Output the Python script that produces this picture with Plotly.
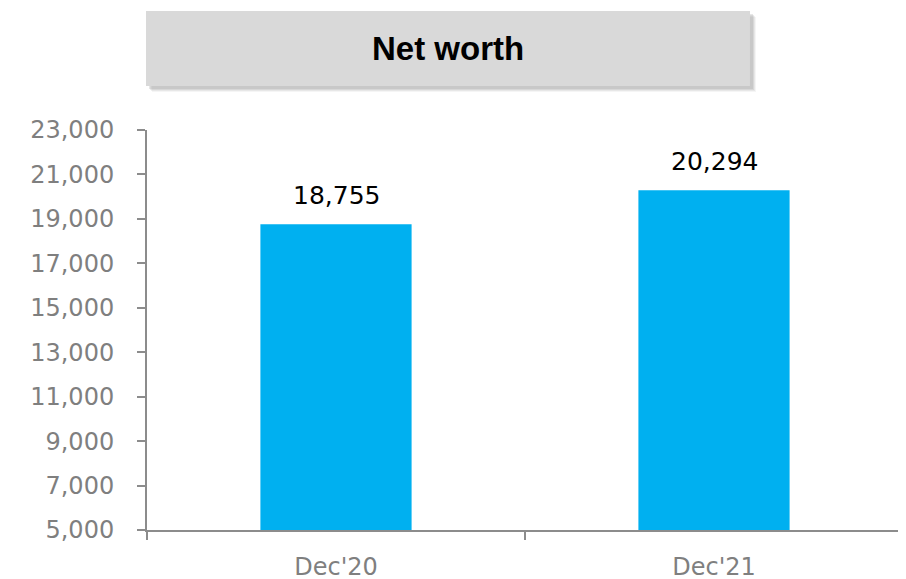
import plotly.graph_objects as go

# data
periods = ["Dec'20", "Dec'21"]
net_worth = [18755, 20294]
y_ticks = [5000, 7000, 9000, 11000, 13000, 15000, 17000, 19000, 21000, 23000]
title_text = "Net worth"

BAR_COLOR = "#00B0F0"
AXIS_COLOR = "#8c8c8c"
TICK_FONT = dict(family="DejaVu Sans", size=24, color="#7f7f7f")


def create_chart() -> go.Figure:
    fig = go.Figure()

    fig.add_trace(go.Bar(x=periods, y=net_worth,
                         marker=dict(color=BAR_COLOR, line=dict(width=0)),
                         width=0.4, hoverinfo="skip"))

    # value labels above the bars
    for p, v in zip(periods, net_worth):
        fig.add_annotation(x=p, y=v, text=f"{v:,}", showarrow=False,
                           yanchor="bottom", yshift=12,
                           font=dict(family="DejaVu Sans", size=25, color="#000000"))

    # title box with a soft shadow
    for off, op in [(6, 0.10), (5, 0.15), (4, 0.2), (3, 0.25)]:
        fig.add_shape(type="rect", xref="paper", yref="paper",
                      x0=-0.0013 + off / 756, x1=0.7976 + off / 756,
                      y0=1.11 - off / 400, y1=1.2975 - off / 400,
                      fillcolor="#9a9a9a", opacity=op, line=dict(width=0),
                      layer="below")
    fig.add_shape(type="rect", xref="paper", yref="paper",
                  x0=-0.0013, x1=0.7976, y0=1.11, y1=1.2975,
                  fillcolor="#D9D9D9", line=dict(width=0), layer="below")
    fig.add_annotation(xref="paper", yref="paper", x=0.3982, y=1.2038,
                       text=f"<b>{title_text}</b>", showarrow=False,
                       xanchor="center", yanchor="middle",
                       font=dict(family="Liberation Sans", size=33, color="#000000"))

    fig.update_xaxes(showline=True, linecolor=AXIS_COLOR, linewidth=2,
                     ticks="outside", tickson="boundaries", ticklen=8,
                     tickcolor=AXIS_COLOR, tickwidth=2,
                     ticklabelstandoff=14, tickfont=TICK_FONT,
                     showgrid=False, zeroline=False)
    fig.update_yaxes(range=[5000, 23000], tickvals=y_ticks,
                     ticktext=[f"{t:,}" for t in y_ticks],
                     showline=True, linecolor=AXIS_COLOR, linewidth=2,
                     ticks="outside", ticklen=8, tickcolor=AXIS_COLOR,
                     tickwidth=2, ticklabelstandoff=18, tickfont=TICK_FONT,
                     showgrid=False, zeroline=False)

    # the page adds an 8px body margin, so margins are trimmed to match
    fig.update_layout(width=906, height=579,
                      margin={"l": 139, "r": 11, "t": 122, "b": 57,
                              "autoexpand": False},
                      paper_bgcolor="white", plot_bgcolor="white",
                      showlegend=False)
    return fig


fig = create_chart()
fig.write_html("out.html")
